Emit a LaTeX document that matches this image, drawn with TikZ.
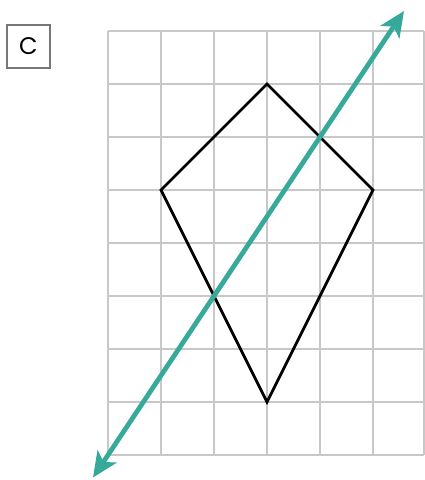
\documentclass[tikz,border=0pt]{standalone}
\usepackage{fontspec}
\setmainfont{Poppins}
\usetikzlibrary{arrows.meta}
\definecolor{gridgray}{HTML}{C8C8C8}
\definecolor{teal}{HTML}{36A99B}
\definecolor{boxgray}{HTML}{777777}
\tikzset{
  gridline/.style={draw=gridgray, line width=2.1pt},
  kiteline/.style={draw=black, line width=2.1pt, line join=miter},
  axisline/.style={draw=teal, line width=3.6pt, {Stealth[length=19pt,width=17pt,inset=5pt]}-{Stealth[length=19pt,width=17pt,inset=5pt]}},
  labelbox/.style={draw=boxgray, line width=1.5pt, minimum width=32pt, minimum height=32pt, inner sep=0pt, font=\fontsize{18}{18}\selectfont}
}
\begin{document}
\begin{tikzpicture}[x=0.75pt,y=-0.75pt]
\useasboundingbox (0,0) rectangle (425,480);
% grid
\foreach \gx in {108,161,214,267,320,373,424} \draw[gridline] (\gx,31) -- (\gx,455);
\foreach \gy in {31,84,137,190,243,296,349,402,455} \draw[gridline] (108,\gy) -- (424,\gy);
% kite
\coordinate (top) at (267,84);
\coordinate (left) at (161,190);
\coordinate (right) at (373,190);
\coordinate (bottom) at (267,402);
\draw[kiteline] (top) -- (right) -- (bottom) -- (left) -- cycle;
% line of symmetry
\coordinate (lineA) at (93,477.5);
\coordinate (lineB) at (404,11);
\draw[axisline] (lineA) -- (lineB);
% label
\node[labelbox] (lab) at (28.5,46.5) {C};
\end{tikzpicture}
\end{document}
